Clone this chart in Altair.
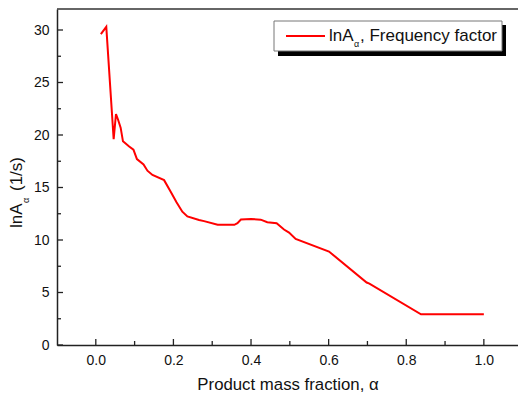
import altair as alt
import pandas as pd

alpha = [0.013, 0.027, 0.046, 0.052, 0.057, 0.064, 0.070, 0.086, 0.097, 0.106,
         0.123, 0.133, 0.146, 0.176, 0.193, 0.208, 0.223, 0.236, 0.266, 0.279,
         0.314, 0.357, 0.365, 0.374, 0.400, 0.425, 0.442, 0.466, 0.485, 0.498,
         0.515, 0.601, 0.698, 0.705, 0.838, 1.0]
lnA = [29.6, 30.3, 19.6, 22.0, 21.5, 20.7, 19.4, 18.9, 18.6, 17.7,
       17.2, 16.6, 16.2, 15.7, 14.6, 13.6, 12.7, 12.25, 11.9, 11.8,
       11.45, 11.45, 11.6, 11.95, 12.0, 11.94, 11.7, 11.6, 11.0, 10.7,
       10.1, 8.9, 5.95, 5.85, 2.93, 2.93]

x_major = [0.0, 0.2, 0.4, 0.6, 0.8, 1.0]
x_minor = [0.1, 0.3, 0.5, 0.7, 0.9]
y_major = [0, 5, 10, 15, 20, 25, 30]
y_minor = [2.5, 7.5, 12.5, 17.5, 22.5, 27.5]

FONT = "Liberation Sans"
W, H = 461, 336

df = pd.DataFrame({"alpha": alpha, "lnA": lnA})
xs = alt.Scale(domain=[-0.1, 1.088], nice=False, zero=False)
ys = alt.Scale(domain=[0, 32], nice=False)

line = alt.Chart(df).mark_line(color="#ff0000", strokeWidth=2).encode(
    x=alt.X("alpha:Q", scale=xs,
            axis=alt.Axis(values=x_major, format=".1f", title=None, ticks=False,
                          grid=False, labelPadding=8)),
    y=alt.Y("lnA:Q", scale=ys,
            axis=alt.Axis(values=y_major, format="d", title=None, ticks=False,
                          grid=False, labelPadding=8)),
    order="alpha:Q",
)

def xticks(vals, length):
    return alt.Chart(pd.DataFrame({"v": vals})).mark_rule(color="#222", strokeWidth=1.3).encode(
        x=alt.X("v:Q", scale=xs), y=alt.value(H), y2=alt.value(H - length))

def yticks(vals, length):
    return alt.Chart(pd.DataFrame({"v": vals})).mark_rule(color="#222", strokeWidth=1.3).encode(
        y=alt.Y("v:Q", scale=ys), x=alt.value(0), x2=alt.value(length))

one = pd.DataFrame({"a": [0]})

top_border = alt.Chart(one).mark_rule(color="#333", strokeWidth=1.5).encode(
    x=alt.value(0), x2=alt.value(W + 5), y=alt.value(0))

def txt(t, x, y, size, align="left", angle=0, baseline="middle"):
    kw = dict(text=t, font=FONT, fontSize=size, align=align, baseline=baseline, color="#111")
    if angle:
        kw["angle"] = angle
    return alt.Chart(one).mark_text(**kw).encode(x=alt.value(x), y=alt.value(y))

# legend box
shadow = alt.Chart(one).mark_rect(color="black").encode(
    x=alt.value(221), x2=alt.value(449), y=alt.value(16), y2=alt.value(47))
box = alt.Chart(one).mark_rect(fill="white", stroke="#777", strokeWidth=1).encode(
    x=alt.value(217), x2=alt.value(445), y=alt.value(12), y2=alt.value(42))
leg_line = alt.Chart(one).mark_rule(color="#ff0000", strokeWidth=2).encode(
    x=alt.value(229), x2=alt.value(268), y=alt.value(27))

layers = [
    line, xticks(x_major, 6), xticks(x_minor, 4), yticks(y_major, 6), yticks(y_minor, 4),
    top_border, shadow, box, leg_line,
    txt("lnA", 272, 27, 17),
    txt("α", 297, 35, 9),
    txt(", Frequency factor", 303, 27, 17),
    # axis titles
    txt("Product mass fraction, α", 231, 376, 16.8, align="center"),
    txt("lnA", -40, 219, 17, angle=270),
    txt("α", -31, 194, 9, angle=270),
    txt("(1/s)", -40, 182, 17, angle=270),
]

chart = alt.layer(*layers).properties(
    width=W, height=H,
    autosize=alt.AutoSizeParams(type="none"),
    padding={"left": 57, "top": 9, "right": 0, "bottom": 50},
).configure_view(stroke=None).configure_axis(
    labelFont=FONT, labelFontSize=14, labelColor="#111",
    domainColor="#222", domainWidth=1.5,
)

chart.save("out.html", embed_options={"renderer": "svg", "actions": False})
